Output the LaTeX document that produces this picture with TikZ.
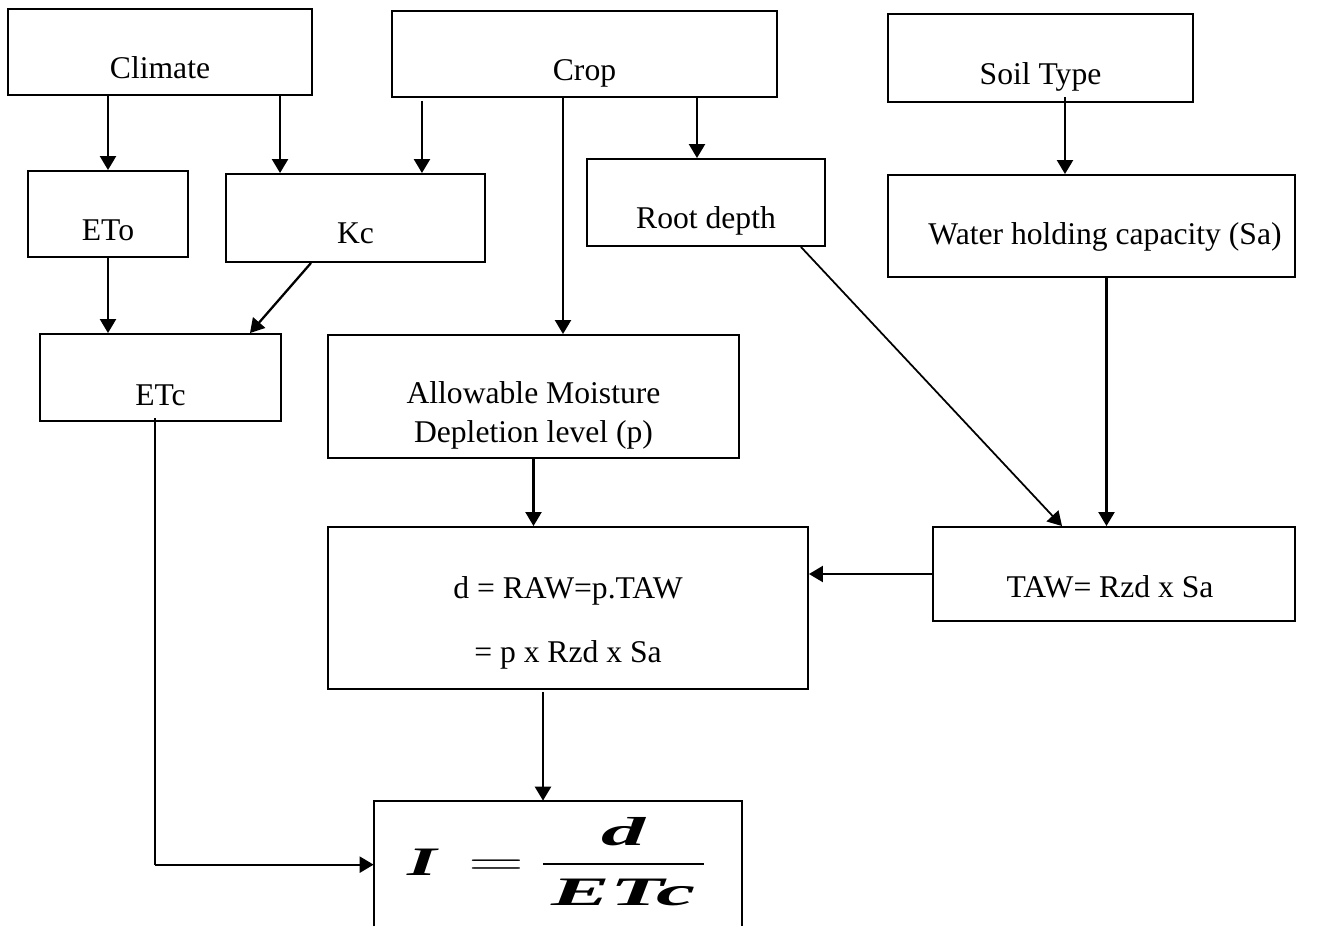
\documentclass[tikz,border=0pt]{standalone}
\usepackage{fontspec}
\setmainfont{Liberation Serif}
\usepackage{amsmath}
\usetikzlibrary{positioning}
\usetikzlibrary{arrows.meta}

\begin{document}
\begin{tikzpicture}[
  box/.style={draw, line width=1.1pt, inner sep=0pt},
  lbl/.style={anchor=base, inner sep=0pt, font=\fontsize{18}{21}\selectfont},
  arr/.style={line width=1.3pt, -{Triangle[length=0.28cm, width=0.32cm]}}
]
\useasboundingbox (0,0) rectangle (26.6,-18.52);

% boxes
\node[box, minimum width=6.08cm, minimum height=1.72cm] (climate) at (3.20,-1.04) {};
\node[box, minimum width=7.70cm, minimum height=1.72cm] (crop) at (11.69,-1.08) {};
\node[box, minimum width=6.10cm, minimum height=1.76cm] (soil) at (20.81,-1.16) {};
\node[box, minimum width=3.20cm, minimum height=1.72cm] (eto) at (2.16,-4.28) {};
\node[box, minimum width=5.18cm, minimum height=1.76cm] (kc) at (7.11,-4.36) {};
\node[box, minimum width=4.76cm, minimum height=1.74cm] (root) at (14.12,-4.05) {};
\node[box, minimum width=8.14cm, minimum height=2.04cm] (water) at (21.83,-4.52) {};
\node[box, minimum width=4.82cm, minimum height=1.74cm] (etc) at (3.21,-7.55) {};
\node[box, minimum width=8.22cm, minimum height=2.46cm] (allow) at (10.67,-7.93) {};
\node[box, minimum width=9.60cm, minimum height=3.24cm] (dbox) at (11.36,-12.16) {};
\node[box, minimum width=7.24cm, minimum height=1.88cm] (taw) at (22.28,-11.48) {};
\node[inner sep=0pt, minimum width=7.36cm, minimum height=2.50cm] (formula) at (11.16,-17.27) {};
\draw[line width=1.1pt] (formula.south west) -- (formula.north west) -- (formula.north east) -- (formula.south east);

% nodes
\node[lbl, yshift=-0.52cm] (climate-l) at (climate) {Climate};
\node[lbl, yshift=-0.52cm] (crop-l) at (crop) {Crop};
\node[lbl, yshift=-0.52cm] (soil-l) at (soil) {Soil Type};
\node[lbl, yshift=-0.52cm] (eto-l) at (eto) {ETo};
\node[lbl, yshift=-0.50cm] (kc-l) at (kc) {Kc};
\node[lbl, yshift=-0.51cm] (root-l) at (root) {Root depth};
\node[lbl, yshift=-0.36cm, xshift=0.27cm] (water-l) at (water) {Water holding capacity (Sa)};
\node[lbl, yshift=-0.55cm] (etc-l) at (etc) {ETc};
\node[lbl, yshift=-0.13cm] (allow-l1) at (allow) {Allowable Moisture};
\node[lbl, yshift=-0.91cm] (allow-l2) at (allow) {Depletion level (p)};
\node[lbl, yshift=0.20cm] (dbox-l1) at (dbox) {d = RAW=p.TAW};
\node[lbl, yshift=-1.08cm] (dbox-l2) at (dbox) {= p x Rzd x Sa};
\node[lbl, yshift=-0.46cm, xshift=-0.08cm] (taw-l) at (taw) {TAW= Rzd x Sa};
\node[anchor=base, inner sep=0pt, font=\fontsize{23}{28}\selectfont\bfseries\itshape] (formula-l) at (11.16,-17.50)
  {\scalebox{1.88}[1]{I}\hspace{0.78em}\scalebox{1.76}[1]{$=$}\hspace{0.36em}%
   \scalebox{2.18}[1]{$\dfrac{\mbox{d}}{\mbox{\hspace{0.1em}ETc\hspace{0.1em}}}$}};

% arrows
\coordinate (k1) at ([xshift=1.10cm]kc.north west);
\coordinate (k2) at ([xshift=-1.28cm]kc.north east);
\coordinate (a1) at ([xshift=0.59cm]allow.north);
\coordinate (r1) at ([xshift=-0.18cm]root.north);
\coordinate (s1) at ([xshift=0.49cm, yshift=0.12cm]soil.south);
\coordinate (w1) at ([xshift=0.30cm]water.south);
\coordinate (k3) at ([xshift=-0.89cm]kc.south);
\coordinate (c1) at ([xshift=1.79cm]etc.north);
\coordinate (r2) at ([xshift=-0.50cm]root.south east);
\coordinate (t1) at ([xshift=2.60cm]taw.north west);
\coordinate (d1) at ([xshift=-0.50cm, yshift=-0.04cm]dbox.south);
\coordinate (e1) at ([xshift=-0.11cm, yshift=0.08cm]etc.south);
\coordinate (f1) at ([yshift=-1.28cm]formula.north west);

\draw[arr] (climate.south -| eto.north) -- (eto.north);
\draw[arr] (climate.south -| k1) -- (k1);
\draw[arr] ([yshift=-0.06cm]crop.south -| k2) -- (k2);
\draw[arr] (crop.south -| a1) -- (a1);
\draw[arr] (crop.south -| r1) -- (r1);
\draw[arr] (s1) -- (s1 |- water.north);
\draw[arr] (eto.south) -- (eto.south |- etc.north);
\draw[arr] (k3) -- (c1);
\draw[arr, line width=1pt] (r2) -- (t1);
\draw[arr] (w1) -- (w1 |- taw.north);
\draw[arr] (taw.west) -- (taw.west -| dbox.east);
\draw[arr] (allow.south) -- (allow.south |- dbox.north);
\draw[arr] (d1) -- (d1 |- formula.north);
\draw[line width=0.6pt] (e1) -- (e1 |- f1);
\draw[arr] (e1 |- f1) -- (f1);

\end{tikzpicture}
\end{document}
